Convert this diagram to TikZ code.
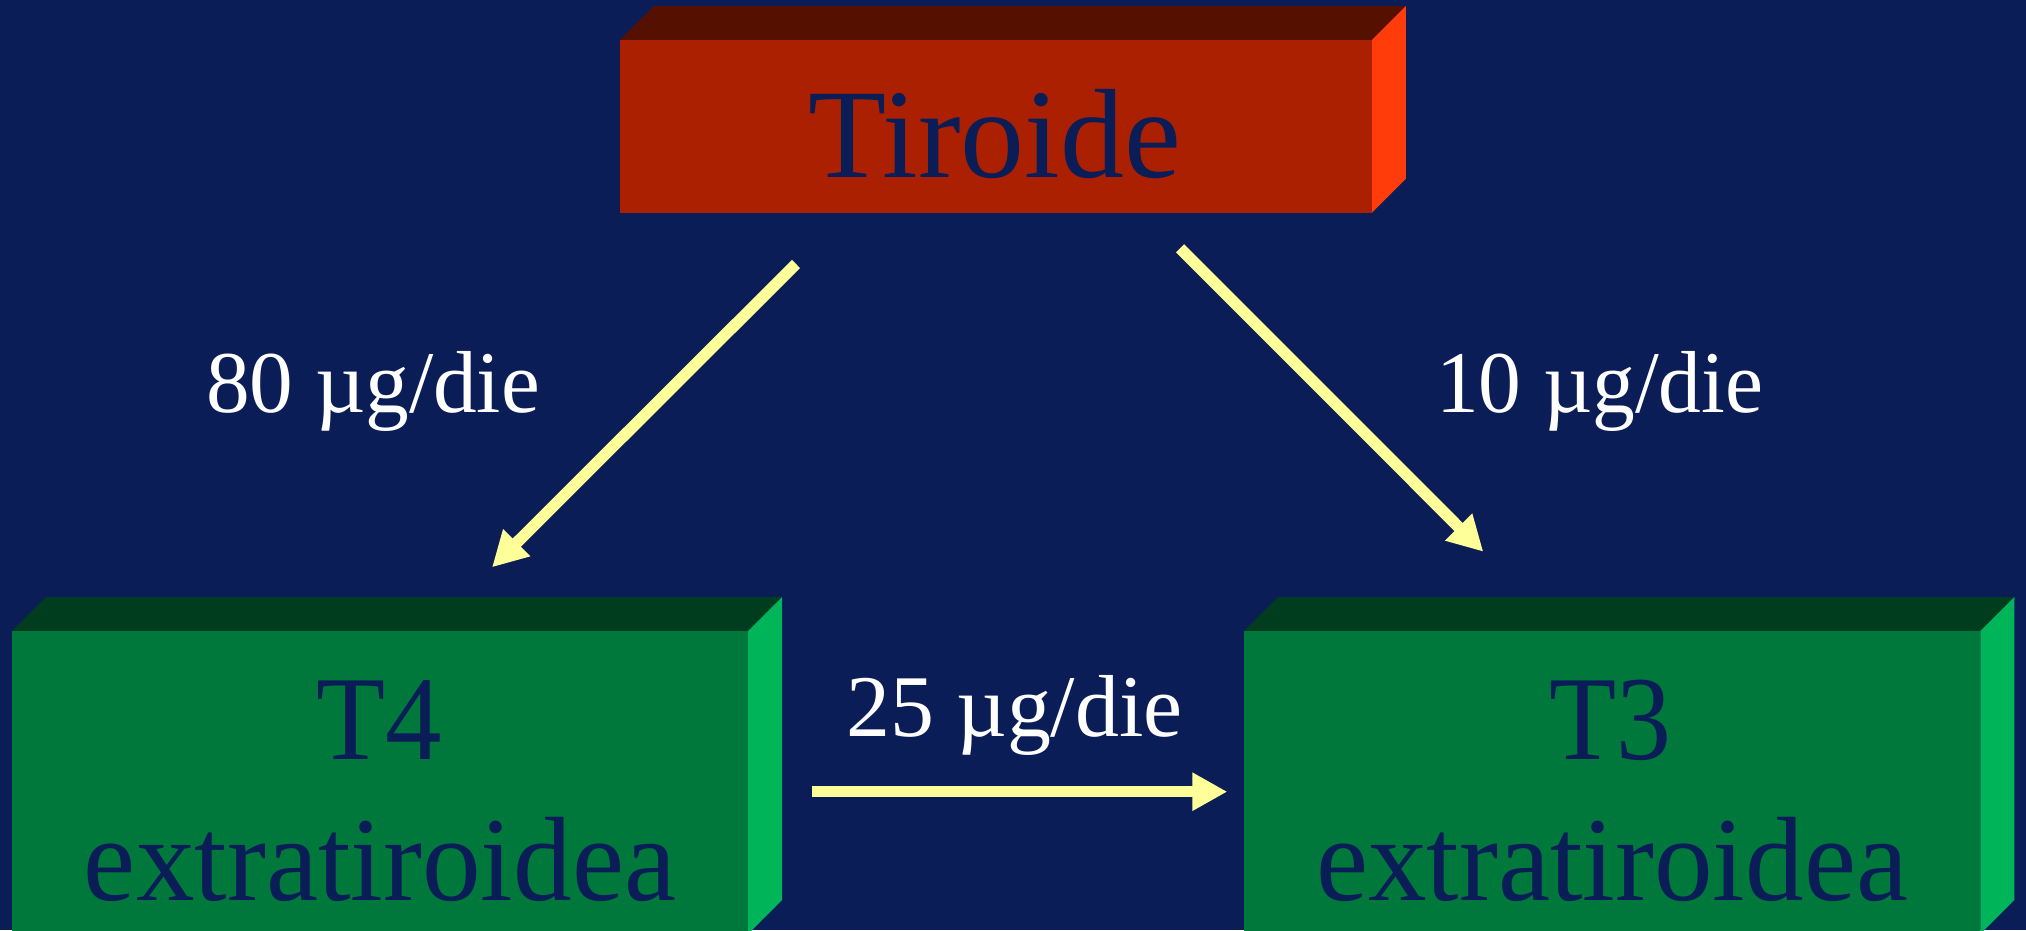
\documentclass[tikz,border=0pt]{standalone}
\usepackage{fontspec}
\setmainfont{Liberation Serif}
\usetikzlibrary{arrows.meta}
\definecolor{bg}{RGB}{10,29,86}
\definecolor{redfront}{RGB}{170,32,0}
\definecolor{redtop}{RGB}{85,16,0}
\definecolor{redside}{RGB}{255,60,10}
\definecolor{grfront}{RGB}{0,120,60}
\definecolor{grtop}{RGB}{0,60,30}
\definecolor{grside}{RGB}{0,180,90}
\definecolor{arrowyellow}{RGB}{255,255,153}
\tikzset{
  face/.style={rectangle, inner sep=0pt, outer sep=0pt, draw=none},
  flow/.style={draw=arrowyellow, line width=11.5pt, -{Triangle[length=35pt,width=36pt]}},
  rate/.style={text=white, inner sep=0pt, anchor=base},
  boxtext/.style={text=bg, inner sep=0pt, anchor=base},
}
\newcommand\fitw[3]{\resizebox{#1pt}{\height}{\fontsize{#2pt}{#2pt}\selectfont #3}}
% name, x1, y1, x2, y2, front, top, side
\newcommand\cuboid[8]{%
  \fill[#7] (#2,#3) -- (#2+34,#3-34) -- (#4+34,#3-34) -- (#4,#3) -- cycle;
  \fill[#8] (#4,#3) -- (#4+34,#3-34) -- (#4+34,#5-34) -- (#4,#5) -- cycle;
  \node[face, fill=#6, minimum width={#4-#2}, minimum height={#5-#3}] (#1) at ({(#2+#4)/2},{(#3+#5)/2}) {};
}
\begin{document}
\begin{tikzpicture}[x=1pt, y=-1pt]
\useasboundingbox (0,0) rectangle (2026,930);
\clip (0,0) rectangle (2026,930);
\fill[bg] (0,0) rectangle (2026,930);

\cuboid{thyroid}{620}{40}{1371.8}{212.7}{redfront}{redtop}{redside}
\cuboid{t4}{12.2}{631}{748}{934}{grfront}{grtop}{grside}
\cuboid{t3}{1244.2}{631}{1980.3}{934}{grfront}{grtop}{grside}

\node[boxtext] (tirtext) at (995,177.3) {\fitw{372}{127}{Tiroide}};
\node[boxtext] (t4a) at (379,759) {\fitw{125.5}{120}{T4}};
\node[boxtext] (t4b) at (380,900.7) {\fitw{592}{120}{extratiroidea}};
\node[boxtext] (t3a) at (1610,759) {\fitw{122}{120}{T3}};
\node[boxtext] (t3b) at (1612,900.7) {\fitw{591.7}{120}{extratiroidea}};

\node[rate] (r80) at (373,412.7) {\fitw{334}{88}{80 µg/die}};
\node[rate] (r10) at (1599.7,412) {\fitw{327}{88}{10 µg/die}};
\node[rate] (r25) at (1014.7,736) {\fitw{336}{88}{25 µg/die}};

\coordinate (a1s) at (796,264);
\coordinate (a1e) at (492,567.3);
\coordinate (a2s) at (1180,248.3);
\coordinate (a2e) at (1483.3,551.7);
\coordinate (a3s) at (811.7,791.7);
\coordinate (a3e) at (1227.3,791.7);
\draw[flow] (a1s) -- (a1e);
\draw[flow] (a2s) -- (a2e);
\draw[flow] (a3s) -- (a3e);
\end{tikzpicture}
\end{document}
